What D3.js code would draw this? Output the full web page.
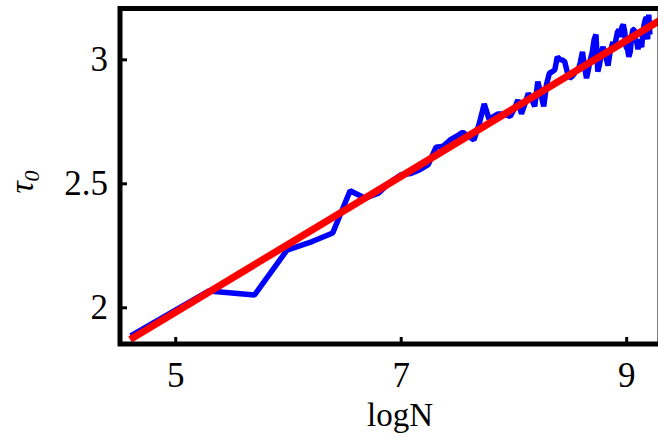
<!DOCTYPE html>
<html><head><meta charset="utf-8">
<script src="https://cdn.jsdelivr.net/npm/d3@7"></script>
<style>
html,body{margin:0;padding:0;background:#fff;}
svg{display:block;}
</style></head>
<body>
<svg id="chart" width="658" height="439"></svg>
<script>
// ---- data ----
const sizesN = [100,200,300,400,500,600,700,800,900,1000,
 1100,1200,1300,1400,1500,1600,1700,1800,1900,2000,
 2100,2200,2300,2400,2500,2600,2700,2800,2900,3000,
 3100,3200,3300,3400,3500,3600,3700,3800,3900,4000,
 4100,4200,4300,4400,4500,4600,4700,4800,4900,5000,
 5100,5200,5300,5400,5500,5600,5700,5800,5900,6000,
 6100,6200,6300,6400,6500,6600,6700,6800,6900,7000,
 7100,7200,7300,7400,7500,7600,7700,7800,7900,8000,
 8100,8200,8300,8400,8500,8600,8700,8800,8900,9000,
 9100,9200,9300,9400,9500,9600,9700,9800,9900,10000];
const tau0 = [1.885,2.066,2.05,2.231,2.265,2.30,2.47,2.44,2.46,2.505,
 2.535,2.54,2.555,2.575,2.646,2.65,2.675,2.69,2.706,2.69,
 2.675,2.74,2.82,2.76,2.77,2.78,2.78,2.775,2.77,2.80,
 2.836,2.78,2.82,2.863,2.84,2.81,2.91,2.86,2.81,2.90,
 2.944,2.95,2.957,3.01,3.00,2.997,2.99,2.95,2.924,2.93,
 2.94,2.96,2.957,2.99,3.03,2.97,2.924,2.96,3.00,3.03,
 3.08,3.10,2.95,2.98,3.03,3.05,3.02,3.00,2.975,3.02,
 3.045,3.07,3.04,3.08,3.11,3.12,3.09,3.13,3.14,3.11,
 3.05,3.04,3.01,3.03,3.09,3.12,3.12,3.08,3.07,3.04,
 3.08,3.06,3.05,3.11,3.14,3.16,3.17,3.08,3.18,3.10];
const fitX = [4.6, 9.35];
const fitY = [1.870, 3.171];
const xTicks = [5, 7, 9];
const yTicks = [2, 2.5, 3];
const yTickLabels = ["2", "2.5", "3"];

// ---- layout ----
const L = 120, R = 660, T = 8.5, B = 344;
const svg = d3.select("#chart");
const x = d3.scaleLinear().domain([4.51, 9.3]).range([L, R]);
const y = d3.scaleLinear().domain([1.852, 3.205]).range([B, T]);
const font = "'Liberation Serif','Times New Roman',serif";

svg.append("defs").append("clipPath").attr("id","clip")
  .append("rect").attr("x",L).attr("y",T).attr("width",R-L).attr("height",B-T);

const g = svg.append("g").attr("clip-path","url(#clip)");
const pts = sizesN.map((n,i)=>[Math.log(n), tau0[i]]);
g.append("path").datum(pts)
  .attr("d", d3.line().x(d=>x(d[0])).y(d=>y(d[1])))
  .attr("fill","none").attr("stroke","#0000ff").attr("stroke-width",5.5)
  .attr("stroke-linejoin","bevel");
g.append("path").datum(fitX.map((v,i)=>[v,fitY[i]]))
  .attr("d", d3.line().x(d=>x(d[0])).y(d=>y(d[1])))
  .attr("fill","none").attr("stroke","#ff0000").attr("stroke-width",7.2);

// axes
const xAxis = d3.axisBottom(x).tickValues(xTicks).tickFormat(d3.format("d"))
  .tickSizeInner(-7).tickSizeOuter(0).tickPadding(18);
const gx = svg.append("g").attr("transform",`translate(0,${B})`).call(xAxis);
const yAxis = d3.axisLeft(y).tickValues(yTicks).tickFormat((d,i)=>yTickLabels[i])
  .tickSizeInner(-7).tickSizeOuter(0).tickPadding(12);
const gy = svg.append("g").attr("transform",`translate(${L},0)`).call(yAxis);
[gx,gy].forEach(a=>{
  a.select(".domain").remove();
  a.selectAll(".tick line").attr("stroke","#000").attr("stroke-width",3);
  a.selectAll(".tick text").attr("fill","#000").style("font-family",font).style("font-size","35px");
});

// frame
svg.append("rect").attr("x",L).attr("y",T).attr("width",R-L).attr("height",B-T)
  .attr("fill","none").attr("stroke","#000").attr("stroke-width",5);

// labels
svg.append("text").attr("x",400).attr("y",426).attr("text-anchor","middle")
  .style("font-family",font).style("font-size","33px").text("logN");
const yl = svg.append("text").attr("transform","translate(33,182) rotate(-90)")
  .attr("text-anchor","middle").style("font-family",font).style("font-size","34px");
yl.append("tspan").style("font-style","italic").text("τ");
yl.append("tspan").style("font-style","italic").style("font-size","22px").attr("dy",6).text("0");
</script>
</body></html>
